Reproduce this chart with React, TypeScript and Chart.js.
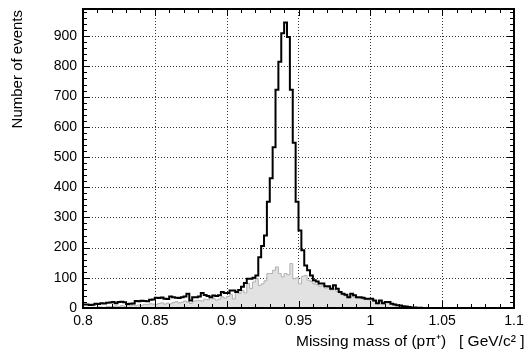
import React, { useEffect, useRef } from 'react';
import { Chart, registerables } from 'chart.js';

Chart.register(...registerables);

// ---- data ----
const BIN_START = 0.8;
const BIN_WIDTH = 0.002;

// all events (black histogram), 150 bins from 0.8 to 1.1
const TOTAL = [
  12, 12, 10, 11, 14, 13, 16, 15, 17, 18,
  20, 16, 20, 21, 19, 13, 14, 15, 23, 22,
  24, 23, 22, 27, 28, 34, 33, 35, 31, 30,
  38, 36, 34, 33, 36, 38, 47, 25, 36, 36,
  38, 50, 43, 40, 36, 41, 40, 42, 53, 50,
  50, 58, 58, 53, 60, 70, 83, 97, 97, 100,
  108, 168, 205, 240, 352, 430, 532, 723, 815, 910,
  945, 897, 723, 547, 352, 257, 191, 141, 125, 108,
  92, 88, 81, 81, 72, 72, 64, 75, 64, 53,
  47, 44, 36, 47, 42, 36, 36, 34, 31, 31,
  31, 25, 16, 25, 16, 20, 20, 14, 12, 9,
  8, 6, 5, 3, 2, 2, 1, 1, 0, 0,
  0, 0, 0, 0, 0, 0, 0, 0, 0, 0,
  0, 0, 0, 0, 0, 0, 0, 0, 0, 0,
  0, 0, 0, 0, 0, 0, 0, 0, 0, 0,
];

// background (grey filled histogram)
const BACKGROUND = [
  0, 2, 1, 3, 2, 4, 3, 2, 5, 4,
  5, 7, 4, 8, 6, 9, 7, 10, 8, 10,
  9, 12, 11, 14, 13, 11, 15, 17, 13, 16,
  14, 18, 21, 17, 19, 23, 20, 15, 22, 24,
  25, 23, 29, 27, 35, 31, 26, 29, 37, 33,
  38, 45, 30, 53, 48, 58, 50, 81, 65, 86,
  97, 75, 80, 90, 114, 114, 125, 136, 114, 103,
  114, 110, 147, 97, 100, 80, 105, 108, 92, 88,
  80, 78, 72, 74, 66, 68, 60, 62, 55, 50,
  44, 40, 34, 40, 36, 33, 32, 30, 28, 27,
  24, 22, 14, 20, 14, 17, 16, 12, 10, 8,
  7, 5, 4, 3, 2, 1, 1, 0, 0, 0,
  0, 0, 0, 0, 0, 0, 0, 0, 0, 0,
  0, 0, 0, 0, 0, 0, 0, 0, 0, 0,
  0, 0, 0, 0, 0, 0, 0, 0, 0, 0,
];

const X_TICKS = [0.8, 0.85, 0.9, 0.95, 1.0, 1.05, 1.1];
const Y_TICKS = [0, 100, 200, 300, 400, 500, 600, 700, 800, 900];
const X_MINOR_STEP = 0.01;
const Y_MINOR_STEP = 20;
const X_MIN = 0.8;
const X_MAX = 1.1;
const Y_MIN = 0;
const Y_MAX = 990;

const X_TITLE = 'Missing mass of (p\u03C0\u207A)   [ GeV/c\u00B2 ]';
const Y_TITLE = 'Number of events';

const FONT = '"Liberation Sans", Arial, Helvetica, sans-serif';

function toPoints(counts: number[]) {
  const pts = counts.map((v, i) => ({ x: BIN_START + i * BIN_WIDTH, y: v }));
  pts.push({ x: BIN_START + counts.length * BIN_WIDTH, y: counts[counts.length - 1] });
  return pts;
}

const framePlugin = {
  id: 'framePlugin',
  beforeDatasetsDraw(chart: any) {
    const { ctx, chartArea: a, scales } = chart;
    const x = scales.x;
    const y = scales.y;
    ctx.save();
    ctx.strokeStyle = '#333';
    ctx.lineWidth = 1;
    ctx.setLineDash([1, 2]);
    X_TICKS.forEach((v) => {
      if (v <= X_MIN + 1e-9 || v >= X_MAX - 1e-9) return;
      const px = Math.round(x.getPixelForValue(v)) + 0.5;
      ctx.beginPath();
      ctx.moveTo(px, a.top);
      ctx.lineTo(px, a.bottom);
      ctx.stroke();
    });
    Y_TICKS.forEach((v) => {
      if (v <= Y_MIN) return;
      const py = Math.round(y.getPixelForValue(v)) + 0.5;
      ctx.beginPath();
      ctx.moveTo(a.left, py);
      ctx.lineTo(a.right, py);
      ctx.stroke();
    });
    ctx.restore();
  },
  afterDatasetsDraw(chart: any) {
    const { ctx, chartArea: a, scales } = chart;
    const x = scales.x;
    const y = scales.y;
    ctx.save();
    ctx.strokeStyle = '#000';
    ctx.lineWidth = 1;
    const major = 7;
    const minor = 4;
    // x ticks (top & bottom, inward)
    const nx = Math.round((X_MAX - X_MIN) / X_MINOR_STEP);
    for (let k = 0; k <= nx; k++) {
      const v = X_MIN + k * X_MINOR_STEP;
      const isMajor = X_TICKS.some((t) => Math.abs(t - v) < 1e-6);
      const len = isMajor ? major : minor;
      const px = Math.round(x.getPixelForValue(v)) + 0.5;
      ctx.beginPath();
      ctx.moveTo(px, a.bottom);
      ctx.lineTo(px, a.bottom - len);
      ctx.moveTo(px, a.top);
      ctx.lineTo(px, a.top + len);
      ctx.stroke();
    }
    // y ticks (left & right, inward)
    const ny = Math.floor((Y_MAX - Y_MIN) / Y_MINOR_STEP);
    for (let k = 0; k <= ny; k++) {
      const v = Y_MIN + k * Y_MINOR_STEP;
      const isMajor = Y_TICKS.includes(v);
      const len = isMajor ? major : minor;
      const py = Math.round(y.getPixelForValue(v)) + 0.5;
      ctx.beginPath();
      ctx.moveTo(a.left, py);
      ctx.lineTo(a.left + len, py);
      ctx.moveTo(a.right, py);
      ctx.lineTo(a.right - len, py);
      ctx.stroke();
    }
    // frame
    ctx.lineWidth = 2;
    ctx.strokeRect(a.left, a.top, a.right - a.left, a.bottom - a.top);

    // titles
    ctx.fillStyle = '#000';
    ctx.font = `15.5px ${FONT}`;
    ctx.textAlign = 'left';
    ctx.textBaseline = 'middle';
    const w = ctx.measureText(X_TITLE).width;
    ctx.fillText(X_TITLE, Math.max(a.right - w, 296), 342);

    ctx.save();
    ctx.translate(18, a.top + 1);
    ctx.rotate(-Math.PI / 2);
    ctx.font = `15px ${FONT}`;
    ctx.textAlign = 'right';
    ctx.textBaseline = 'middle';
    ctx.fillText(Y_TITLE, 0, 0);
    ctx.restore();

    ctx.restore();
  },
};

export default function App() {
  const canvasRef = useRef<HTMLCanvasElement | null>(null);

  useEffect(() => {
    const canvas = canvasRef.current;
    if (!canvas) return;
    const chart = new Chart(canvas, {
      type: 'line',
      data: {
        datasets: [
          {
            label: 'all',
            data: toPoints(TOTAL),
            borderColor: '#000',
            borderWidth: 2,
            fill: false,
            stepped: true,
            pointRadius: 0,
          },
          {
            label: 'background',
            data: toPoints(BACKGROUND),
            borderColor: '#b0b0b0',
            backgroundColor: '#e2e2e2',
            borderWidth: 1,
            fill: 'origin',
            stepped: true,
            pointRadius: 0,
          },
        ],
      },
      options: {
        animation: false,
        responsive: false,
        devicePixelRatio: 1,
        layout: { padding: { top: 9, right: 10, bottom: 0, left: 0 } },
        plugins: {
          legend: { display: false },
          tooltip: { enabled: false },
        },
        scales: {
          x: {
            type: 'linear',
            min: X_MIN,
            max: X_MAX,
            grid: { display: false, drawTicks: false },
            border: { display: false },
            afterBuildTicks: (s: any) => {
              s.ticks = X_TICKS.map((v) => ({ value: v }));
            },
            afterFit: (s: any) => {
              s.height = 44;
              s.paddingLeft = 0;
              s.paddingRight = 0;
            },
            ticks: {
              padding: 5,
              color: '#000',
              maxRotation: 0,
              autoSkip: false,
              font: { family: FONT, size: 14 },
              callback: (v: any) => String(parseFloat(Number(v).toFixed(3))),
            },
          },
          y: {
            type: 'linear',
            min: Y_MIN,
            max: Y_MAX,
            grid: { display: false, drawTicks: false },
            border: { display: false },
            afterBuildTicks: (s: any) => {
              s.ticks = Y_TICKS.map((v) => ({ value: v }));
            },
            afterFit: (s: any) => {
              s.width = 83;
              s.paddingTop = 0;
              s.paddingBottom = 0;
            },
            ticks: {
              padding: 6,
              color: '#000',
              autoSkip: false,
              font: { family: FONT, size: 14 },
              callback: (v: any) => String(v),
            },
          },
        },
      },
      plugins: [framePlugin],
    });
    return () => chart.destroy();
  }, []);

  return (
    <div style={{ position: 'fixed', left: 0, top: 0, width: 524, height: 352, background: '#fff' }}>
      <canvas ref={canvasRef} width={524} height={352} style={{ display: 'block' }} />
    </div>
  );
}
